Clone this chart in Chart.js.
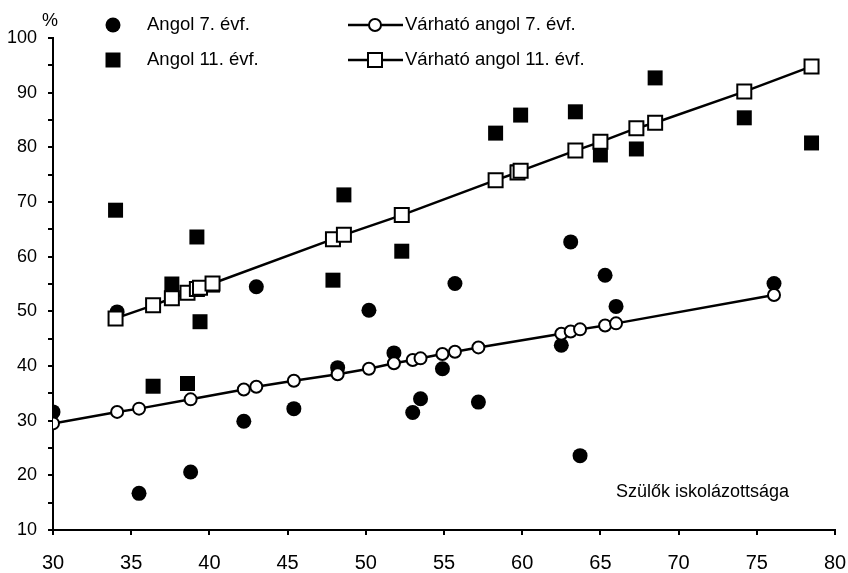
<!DOCTYPE html>
<html>
<head>
<meta charset="utf-8">
<script src="https://cdn.jsdelivr.net/npm/chart.js@4.4.1/dist/chart.umd.min.js"></script>
<style>
  html, body { margin: 0; padding: 0; background: #fff; }
  #wrap { width: 848px; height: 573px; }
</style>
</head>
<body>
<div id="wrap"><canvas id="chart" width="848" height="573"></canvas></div>
<script>
// 7. évfolyam: szülők iskolázottsága, mért és várható eredmény
const schools7X = [30.0, 34.1, 35.5, 38.8, 42.2, 43.0, 45.4, 48.2, 50.2, 51.8, 53.0, 53.5, 54.9, 55.7, 57.2, 62.5, 63.1, 63.7, 65.3, 66.0, 76.1];
const angol7 = [31.6, 49.9, 16.7, 20.6, 29.9, 54.5, 32.2, 39.7, 50.2, 42.4, 31.5, 34.0, 39.5, 55.1, 33.4, 43.8, 62.7, 23.6, 56.6, 50.9, 55.1];
const expected7 = [29.5, 31.6, 32.2, 33.9, 35.7, 36.2, 37.3, 38.5, 39.5, 40.5, 41.1, 41.4, 42.2, 42.6, 43.4, 45.9, 46.3, 46.7, 47.4, 47.8, 53.0];

// 11. évfolyam
const schools11X = [34.0, 36.4, 37.6, 38.6, 39.2, 39.4, 40.2, 47.9, 48.6, 52.3, 58.3, 59.7, 59.9, 63.4, 65.0, 67.3, 68.5, 74.2, 78.5];
const angol11 = [68.5, 36.3, 55.0, 36.8, 63.6, 48.1, 54.8, 55.7, 71.3, 61.0, 82.6, 75.5, 85.9, 86.5, 78.6, 79.7, 92.7, 85.4, 80.8];
const expected11 = [48.7, 51.1, 52.4, 53.4, 54.1, 54.3, 55.1, 63.2, 64.0, 67.6, 74.0, 75.4, 75.7, 79.4, 81.0, 83.5, 84.5, 90.2, 94.8];

const seriesNames = ['Angol 7. évf.', 'Angol 11. évf.', 'Várható angol 7. évf.', 'Várható angol 11. évf.'];
const xRange = [30, 80];
const yRange = [10, 100];
const xAxisTitle = 'Szülők iskolázottsága';
const yUnit = '%';

const FONT = '"Liberation Sans", Arial, sans-serif';

function toPoints(xs, ys) {
  return xs.map((x, i) => ({ x: x, y: ys[i] }));
}

// legend in two columns plus the free-standing labels
const extraText = {
  id: 'extraText',
  afterDraw(chart) {
    const ctx = chart.ctx;
    const draw = Chart.helpers.drawPoint;
    ctx.save();
    ctx.fillStyle = '#000';
    ctx.strokeStyle = '#000';
    ctx.textBaseline = 'middle';
    ctx.textAlign = 'left';
    ctx.font = '18.5px ' + FONT;

    const rows = [25, 60];
    // filled markers
    draw(ctx, { pointStyle: 'circle', radius: 7.5, rotation: 0, borderWidth: 0 }, 113, rows[0]);
    draw(ctx, { pointStyle: 'rect', radius: 10.6, rotation: 0, borderWidth: 0 }, 113, rows[1]);
    ctx.fillText(seriesNames[0], 147, rows[0]);
    ctx.fillText(seriesNames[1], 147, rows[1]);

    // line + open markers
    rows.forEach((y, i) => {
      ctx.lineWidth = 2.5;
      ctx.beginPath();
      ctx.moveTo(348, y);
      ctx.lineTo(403, y);
      ctx.stroke();
      ctx.fillStyle = '#fff';
      ctx.lineWidth = 2;
      draw(ctx, i === 0
        ? { pointStyle: 'circle', radius: 6, rotation: 0, borderWidth: 2 }
        : { pointStyle: 'rect', radius: 9.9, rotation: 0, borderWidth: 2 }, 375, y);
      ctx.fillStyle = '#000';
      ctx.fillText(seriesNames[2 + i], 405, y);
    });

    ctx.font = '18px ' + FONT;
    ctx.fillText(xAxisTitle, 616, 492);
    ctx.textAlign = 'center';
    ctx.fillText(yUnit, 50, 21);
    ctx.restore();
  }
};

new Chart(document.getElementById('chart'), {
  type: 'scatter',
  data: {
    datasets: [
      {
        label: seriesNames[0],
        data: toPoints(schools7X, angol7),
        pointStyle: 'circle',
        pointRadius: 7.5,
        backgroundColor: '#000',
        borderWidth: 0,
        showLine: false,
        order: 2
      },
      {
        label: seriesNames[1],
        data: toPoints(schools11X, angol11),
        pointStyle: 'rect',
        pointRadius: 10.6,
        backgroundColor: '#000',
        borderWidth: 0,
        showLine: false,
        order: 2
      },
      {
        label: seriesNames[2],
        data: toPoints(schools7X, expected7),
        pointStyle: 'circle',
        pointRadius: 6,
        pointBackgroundColor: '#fff',
        pointBorderColor: '#000',
        pointBorderWidth: 2,
        borderColor: '#000',
        borderWidth: 2.5,
        showLine: true,
        tension: 0,
        order: 1
      },
      {
        label: seriesNames[3],
        data: toPoints(schools11X, expected11),
        pointStyle: 'rect',
        pointRadius: 9.9,
        pointBackgroundColor: '#fff',
        pointBorderColor: '#000',
        pointBorderWidth: 2,
        borderColor: '#000',
        borderWidth: 2.5,
        showLine: true,
        tension: 0,
        order: 1
      }
    ]
  },
  options: {
    responsive: false,
    animation: false,
    layout: { padding: { left: 0, right: 0, top: 38, bottom: 0 } },
    plugins: {
      legend: { display: false },
      tooltip: { enabled: false }
    },
    scales: {
      x: {
        type: 'linear',
        min: xRange[0],
        max: xRange[1],
        afterFit(scale) {
          scale.height = 43;
          scale.paddingLeft = 0;
          scale.paddingRight = 13;
        },
        border: { color: '#000', width: 2 },
        grid: { drawOnChartArea: false, color: '#000', tickLength: 5, lineWidth: 2 },
        ticks: {
          stepSize: 5,
          color: '#000',
          padding: 16,
          font: { family: FONT, size: 20 }
        }
      },
      y: {
        type: 'linear',
        min: yRange[0],
        max: yRange[1],
        afterFit(scale) {
          scale.width = 53;
          scale.paddingTop = 0;
          scale.paddingBottom = 0;
        },
        border: { color: '#000', width: 2 },
        grid: { drawOnChartArea: false, color: '#000', tickLength: 5, lineWidth: 2 },
        ticks: {
          stepSize: 5,
          color: '#000',
          padding: 11,
          font: { family: FONT, size: 18 },
          callback: (v) => (v % 10 === 0 ? v : '')
        }
      }
    }
  },
  plugins: [extraText]
});
</script>
</body>
</html>
